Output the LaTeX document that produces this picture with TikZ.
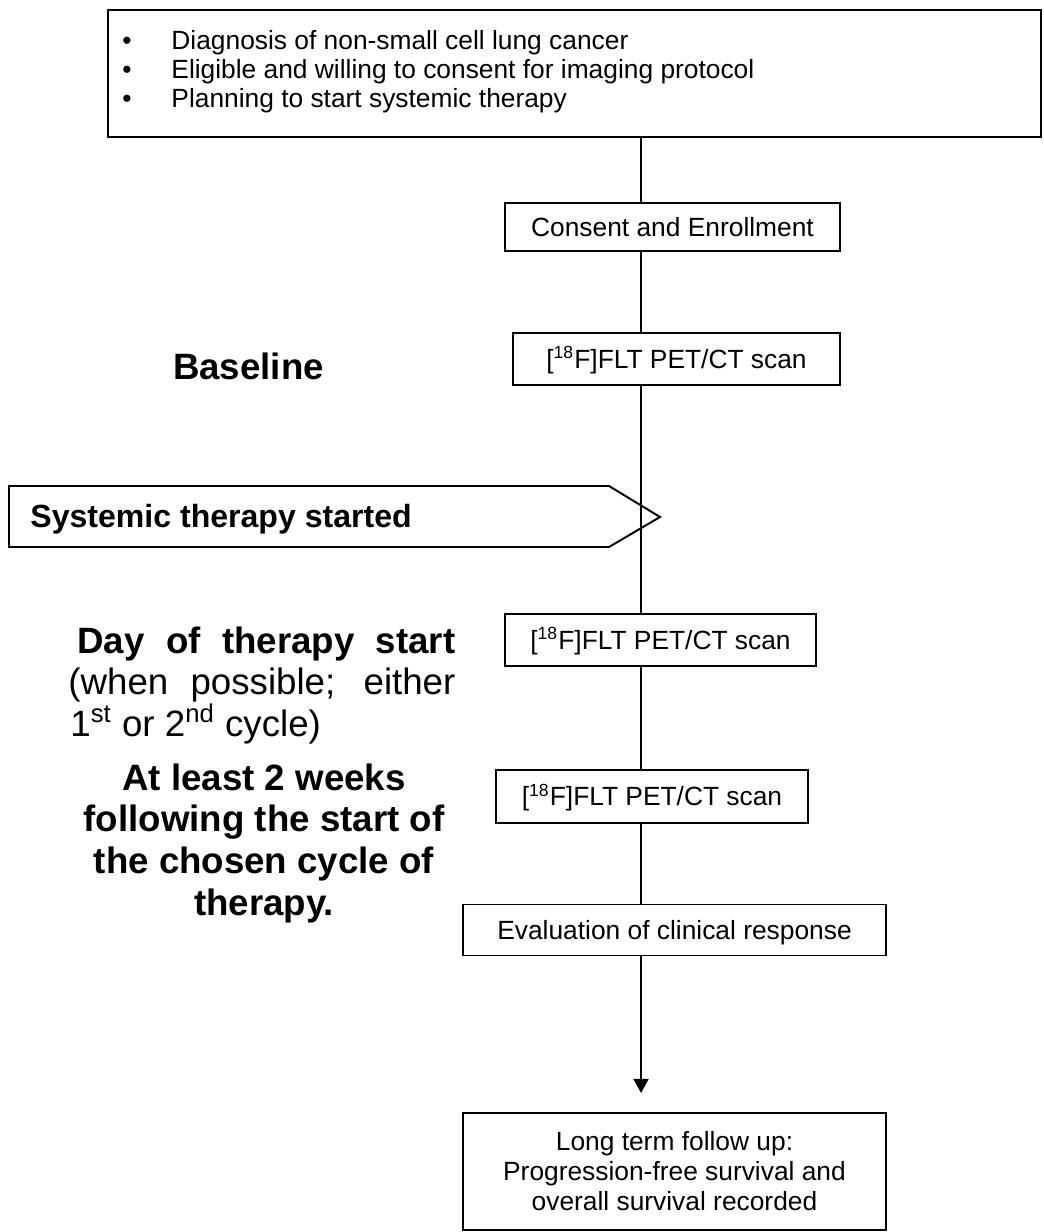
\documentclass[tikz,border=0pt]{standalone}
\usepackage{fontspec}
\setmainfont{Liberation Sans}
\usetikzlibrary{arrows.meta}
\newlength\pxu
\setlength\pxu{0.016cm}

\begin{document}
\begin{tikzpicture}[x=0.016cm, y=-0.016cm,
  box/.style={draw, line width=0.9pt, inner sep=0pt, font=\fontsize{12}{13.66}\selectfont, text height=8.6pt, text depth=0pt},
  conn/.style={line width=0.9pt},
  bodytext/.style={inner sep=0pt, font=\fontsize{12}{13.66}\selectfont},
  sidebold/.style={inner sep=0pt, font=\fontsize{16.7}{19}\selectfont\bfseries},
  sidetext/.style={inner sep=0pt, font=\fontsize{16.7}{19}\selectfont}]

\useasboundingbox (0,0) rectangle (1043,1232);

% x position of the vertical time line
\coordinate (spine) at (641,0);

% inclusion criteria
\node[box, minimum width=933\pxu, minimum height=127\pxu] (criteria) at (574.5,73.5) {};
\foreach \i/\txt in {0/Diagnosis of non-small cell lung cancer,
                     1/Eligible and willing to consent for imaging protocol,
                     2/Planning to start systemic therapy} {
    \node[bodytext, anchor=base] (bul\i) at (127,50+29*\i) {\textbullet};
    \node[bodytext, anchor=base west] (crit\i) at (171,50+29*\i) {\txt};
}

% steps on the right
\node[box, minimum width=335\pxu, minimum height=48\pxu] (consent) at (672.5,227) {Consent and Enrollment};
\node[box, minimum width=327\pxu, minimum height=52\pxu] (flt1) at (676.5,359) {[\textsuperscript{18}F]FLT PET/CT scan};
\node[box, minimum width=311\pxu, minimum height=52\pxu] (flt2) at (660.5,640) {[\textsuperscript{18}F]FLT PET/CT scan};
\node[box, minimum width=312\pxu, minimum height=53\pxu] (flt3) at (652,796.5) {[\textsuperscript{18}F]FLT PET/CT scan};
\node[box, minimum width=423\pxu, minimum height=51\pxu] (eval) at (674.5,930) {Evaluation of clinical response};
\node[draw, line width=0.9pt, bodytext, align=center, minimum width=423\pxu, minimum height=117\pxu] (followup) at (674.5,1171.5)
    {Long term follow up:\\Progression-free survival and\\overall survival recorded};

% therapy start pointer
\draw[conn] (9,486) -- (609,486) -- (660,517) -- (609,547) -- (9,547) -- cycle;
\node[inner sep=0pt, font=\fontsize{14.6}{17}\selectfont\bfseries, anchor=base west] (started) at (30,527) {Systemic therapy started};

% time line
\foreach \a/\b in {criteria/consent, consent/flt1, flt1/flt2, flt2/flt3, flt3/eval}
    \draw[conn] (\a.south -| spine) -- (\b.north -| spine);
\coordinate (fuend) at (641,1093);
\draw[conn, -{Triangle[width=6.8pt, length=6.4pt]}] (eval.south -| spine) -- (fuend);

% time points on the left
\node[sidebold, anchor=base] (baseline) at (248.5,380) {Baseline};

\node[sidebold, anchor=base west] (day0) at (77,653) {\makebox[378\pxu][s]{Day of therapy start}};
\node[sidetext, anchor=base west] (day1) at (68,694) {\makebox[387\pxu][s]{(when possible; either}};
\node[sidetext, anchor=base west] (day2) at (70,736) {1\textsuperscript{st} or 2\textsuperscript{nd} cycle)};

\foreach \i/\txt in {0/At least 2 weeks, 1/following the start of, 2/the chosen cycle of, 3/therapy.}
    \node[sidebold, anchor=base] (wk\i) at (264,790+41.7*\i) {\txt};

\end{tikzpicture}
\end{document}
